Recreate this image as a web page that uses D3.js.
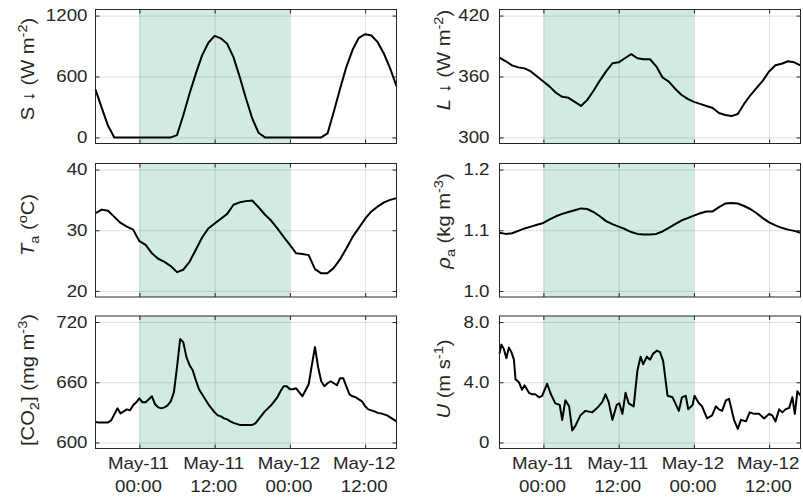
<!DOCTYPE html>
<html>
<head>
<meta charset="utf-8">
<script src="https://cdn.jsdelivr.net/npm/d3@7"></script>
<style>
  body { margin: 0; background: #fff; }
  svg { font-family: "Liberation Sans", Arial, Helvetica, sans-serif; }
</style>
</head>
<body>
<svg width="803" height="500"></svg>
<script>
var parseTime = d3.timeParse("%Y-%m-%d %H:%M");

// time window of the record and the shaded day
var startTime = parseTime("2019-05-10 17:00"),
    endTime = parseTime("2019-05-12 17:00");
var shadeFrom = parseTime("2019-05-11 00:00"),
    shadeTo = parseTime("2019-05-12 00:00");
var tickTimes = ["2019-05-11 00:00", "2019-05-11 12:00", "2019-05-12 00:00", "2019-05-12 12:00"].map(parseTime);

// hourly series (hours after May-10 17:00)
var hourSteps = d3.range(0, 49);
var swDown = [471, 291, 114, 0, 0, 0, 0, 0, 0, 0,
              0, 0, 0, 23, 219, 432, 628, 808, 932, 1000,
              975, 922, 791, 595, 383, 186, 46, 0, 0, 0,
              0, 0, 0, 0, 0, 0, 0, 39, 252, 480,
              693, 863, 981, 1017, 1004, 938, 824, 677, 504];
var lwDown = [378.5, 375, 371, 369, 368, 365, 360, 355, 350, 344,
              340, 339, 335, 331, 337, 346, 356, 365, 373, 374,
              378, 382, 378, 377, 377, 370, 359, 355, 348, 342,
              338, 335, 333, 331, 329, 324, 322, 321, 323, 333,
              341.5, 348.7, 356, 365, 371, 372.6, 375, 374, 371];
var airTemp = [32.8, 33.4, 33.2, 32.2, 31.2, 30.6, 30.1, 28.2, 27.6, 26.2,
               25.3, 24.8, 24.1, 23.1, 23.5, 24.8, 26.8, 28.8, 30.3, 31.1,
               31.9, 32.7, 34.2, 34.6, 34.8, 34.9, 33.8, 32.6, 31.6, 30.3,
               28.9, 27.6, 26.2, 26.1, 25.9, 23.6, 22.9, 22.9, 23.8, 25.2,
               27, 28.9, 30.4, 31.9, 33.1, 33.9, 34.6, 35, 35.3];
var airDensity = [1.096, 1.094, 1.095, 1.099, 1.103, 1.106, 1.109, 1.112, 1.118, 1.123,
                  1.127, 1.130, 1.133, 1.136, 1.135, 1.130, 1.123, 1.115, 1.110, 1.106,
                  1.102, 1.097, 1.094, 1.093, 1.093, 1.094, 1.098, 1.104, 1.110, 1.116,
                  1.120, 1.124, 1.128, 1.131, 1.131, 1.138, 1.144, 1.145, 1.144, 1.140,
                  1.135, 1.128, 1.120, 1.113, 1.108, 1.104, 1.101, 1.099, 1.096];

// half-hourly CO2
var halfHourSteps = d3.range(0, 48.5, 0.5);
var co2 = [620.4, 620, 620, 620, 620, 622, 628, 634, 629, 631,
           633, 632, 637, 640, 644, 640, 640, 643, 646, 638,
           635, 634, 635, 637, 641, 650, 675, 703, 700, 685,
           677, 672, 662, 653, 648, 643, 638, 634, 630, 627,
           626, 624, 623, 621, 619.5, 618.5, 617.5, 617.5, 617.5, 617.5,
           617.5, 619, 623, 627, 631, 634, 637, 641, 645, 651,
           656, 656, 653, 653, 654, 650, 646, 652, 658, 677,
           695, 675, 661, 656, 659, 661, 659, 657, 664, 664,
           656, 648, 646, 645, 643, 641, 636, 633, 632, 631,
           629.5, 629, 628, 627, 625, 623, 621];

// wind speed (irregular samples)
var windHours = [0, 0.3, 0.7, 1.1, 1.5, 1.9, 2.3, 2.55, 3.1, 3.6,
                 4, 4.7, 5.2, 5.7, 6.3, 6.8, 7.6, 8.2, 8.9, 9.6,
                 10, 10.5, 11.1, 11.6, 12.1, 12.9, 13.7, 14.8, 15.6, 16.4,
                 16.9, 17.4, 18, 18.7, 19.1, 19.6, 20.1, 20.6, 21.4, 22,
                 22.5, 22.9, 23.5, 24, 24.5, 25.1, 25.6, 26.1, 26.8, 27.6,
                 28.6, 29.1, 29.7, 30.1, 30.8, 31.1, 31.8, 32.3, 33.1, 33.9,
                 34.5, 35, 35.5, 36.1, 36.6, 37.4, 38, 38.5, 39.3, 39.9,
                 40.6, 41.4, 42.2, 43, 43.5, 44, 44.6, 45.1, 45.6, 46.2,
                 46.7, 47.1, 47.5, 48];
var wind = [5.9, 6.5, 6.2, 5.6, 6.3, 6.0, 5.5, 4.2, 4.0, 3.5,
            3.8, 3.3, 3.2, 3.2, 3.0, 3.1, 3.9, 3.2, 2.6, 2.5,
            1.5, 2.8, 2.4, 0.8, 1.1, 1.8, 2.1, 2.0, 2.3, 2.7,
            3.2, 2.7, 1.5, 2.5, 2.6, 1.9, 3.3, 2.6, 2.4, 4.8,
            5.7, 5.2, 5.7, 5.5, 5.9, 6.1, 6.0, 5.4, 3.1, 3.0,
            2.1, 3.0, 3.1, 2.2, 2.5, 3.1, 2.6, 2.4, 1.6, 1.8,
            2.4, 2.2, 2.1, 2.8, 2.9, 1.5, 0.9, 1.5, 1.4, 2.0,
            1.9, 1.9, 1.6, 1.9, 1.8, 1.4, 2.2, 2.0, 2.2, 2.3,
            3.0, 1.9, 3.4, 3.1];

// y ticks and their labels
var sTicks = [0, 600, 1200], sLabels = ["0", "600", "1200"];
var lTicks = [300, 360, 420], lLabels = ["300", "360", "420"];
var tTicks = [20, 30, 40], tLabels = ["20", "30", "40"];
var rhoTicks = [1.0, 1.1, 1.2], rhoLabels = ["1.0", "1.1", "1.2"];
var co2Ticks = [600, 660, 720], co2Labels = ["600", "660", "720"];
var uTicks = [0, 4, 8], uLabels = ["0", "4.0", "8.0"];
var dayLabels = ["May-11", "May-11", "May-12", "May-12"],
    clockLabels = ["00:00", "12:00", "00:00", "12:00"];

var svg = d3.select("svg");
var ink = "#262626";

var colLeft = [95.5, 499.5], plotW = 301;
var rowTop = [9.5, 163.5, 316], rowH = [134, 133.5, 132.5];
var labelX = [34, 450], tickGap = [8, 10];

var panels = [
  {col: 0, row: 0, hours: hourSteps, values: swDown, ticks: sTicks, labels: sLabels, labelY: 69,
   title: [{t: "S \u2193 (W m"}, {t: "-2", k: "sup"}, {t: ")"}]},
  {col: 1, row: 0, hours: hourSteps, values: lwDown, ticks: lTicks, labels: lLabels, labelY: 60,
   title: [{t: "L", i: true}, {t: " \u2193 (W m"}, {t: "-2", k: "sup"}, {t: ")"}]},
  {col: 0, row: 1, hours: hourSteps, values: airTemp, ticks: tTicks, labels: tLabels, labelY: 225,
   title: [{t: "T", i: true}, {t: "a", k: "sub"}, {t: " ("}, {t: "o", k: "sup"}, {t: "C)"}]},
  {col: 1, row: 1, hours: hourSteps, values: airDensity, ticks: rhoTicks, labels: rhoLabels, labelY: 221,
   title: [{t: "\u03c1", i: true}, {t: "a", k: "sub"}, {t: " (kg m"}, {t: "-3", k: "sup"}, {t: ")"}]},
  {col: 0, row: 2, hours: halfHourSteps, values: co2, ticks: co2Ticks, labels: co2Labels, labelY: 380,
   title: [{t: "[CO"}, {t: "2", k: "sub"}, {t: "] (mg m"}, {t: "-3", k: "sup"}, {t: ")"}]},
  {col: 1, row: 2, hours: windHours, values: wind, ticks: uTicks, labels: uLabels, labelY: 379,
   title: [{t: "U", i: true}, {t: " (m s"}, {t: "-1", k: "sup"}, {t: ")"}]}
];

var x = d3.scaleTime().domain([startTime, endTime]).range([0, plotW]);

panels.forEach(function(p) {
  var left = colLeft[p.col], top = rowTop[p.row], h = rowH[p.row];
  var lo = p.ticks[0], hi = p.ticks[p.ticks.length - 1], pad = (hi - lo) * 0.05;
  var y = d3.scaleLinear().domain([lo - pad, hi + pad]).range([h, 0]);

  var g = svg.append("g").attr("transform", "translate(" + left + "," + top + ")");

  // shaded day
  g.append("rect")
      .attr("x", x(shadeFrom))
      .attr("y", 0)
      .attr("width", x(shadeTo) - x(shadeFrom))
      .attr("height", h)
      .attr("fill", "#d1ebe2");

  // grid
  g.append("g")
      .call(d3.axisBottom(x).tickValues(tickTimes).tickSize(h).tickFormat(""))
      .call(function(s) { s.select(".domain").remove(); })
      .selectAll("line").attr("stroke", "#000").attr("stroke-opacity", 0.13);
  g.append("g")
      .call(d3.axisLeft(y).tickValues(p.ticks).tickSize(-plotW).tickFormat(""))
      .call(function(s) { s.select(".domain").remove(); })
      .selectAll("line").attr("stroke", "#000").attr("stroke-opacity", 0.13);

  // data line
  var pts = p.hours.map(function(hr, i) { return {t: d3.timeMinute.offset(startTime, Math.round(hr * 60)), v: p.values[i]}; });
  g.append("path")
      .datum(pts)
      .attr("fill", "none")
      .attr("stroke", "#000")
      .attr("stroke-width", 2)
      .attr("stroke-linejoin", "round")
      .attr("d", d3.line().x(function(d) { return x(d.t); }).y(function(d) { return y(d.v); }));

  // inward ticks on all four sides
  [d3.axisBottom(x).tickValues(tickTimes), d3.axisTop(x).tickValues(tickTimes)].forEach(function(ax, k) {
    g.append("g")
        .attr("transform", "translate(0," + (k === 0 ? h : 0) + ")")
        .call(ax.tickSize(-4).tickFormat(""))
        .call(function(s) { s.select(".domain").remove(); })
        .selectAll("line").attr("stroke", ink);
  });
  [d3.axisLeft(y).tickValues(p.ticks), d3.axisRight(y).tickValues(p.ticks)].forEach(function(ax, k) {
    g.append("g")
        .attr("transform", "translate(" + (k === 0 ? 0 : plotW) + ",0)")
        .call(ax.tickSize(-4).tickFormat(""))
        .call(function(s) { s.select(".domain").remove(); })
        .selectAll("line").attr("stroke", ink);
  });

  g.append("rect")
      .attr("width", plotW)
      .attr("height", h)
      .attr("fill", "none")
      .attr("stroke", ink)
      .attr("stroke-width", 1);

  // y tick labels
  g.selectAll(".ylab")
    .data(p.ticks)
    .enter().append("text")
      .attr("class", "ylab")
      .attr("transform", function(d) { return "translate(" + (-tickGap[p.col]) + "," + (y(d) + 5.6) + ") scale(1.17,1)"; })
      .attr("text-anchor", "end")
      .style("font-size", "16px")
      .attr("fill", ink)
      .text(function(d, i) { return p.labels[i]; });

  // x tick labels on bottom row
  if (p.row === 2) {
    tickTimes.forEach(function(tt, i) {
      [dayLabels[i], clockLabels[i]].forEach(function(txt, j) {
        g.append("text")
            .attr("transform", "translate(" + (x(tt) - 1) + "," + (h + (j === 0 ? 20 : 43.5)) + ") scale(1.17,1)")
            .attr("text-anchor", "middle")
            .style("font-size", "16px")
            .attr("fill", ink)
            .text(txt);
      });
    });
  }

  // y axis title
  var lab = svg.append("text")
      .attr("transform", "translate(" + labelX[p.col] + "," + p.labelY + ") rotate(-90) scale(1.12,1)")
      .attr("text-anchor", "middle")
      .style("font-size", "18px")
      .attr("fill", ink);
  var shift = 0;
  p.title.forEach(function(s) {
    var target = s.k === "sub" ? 5 : s.k === "sup" ? -7 : 0;
    var ts = lab.append("tspan").attr("dy", target - shift).text(s.t);
    shift = target;
    if (s.k) ts.style("font-size", "13px");
    if (s.i) ts.style("font-style", "italic");
  });
});
</script>
</body>
</html>
